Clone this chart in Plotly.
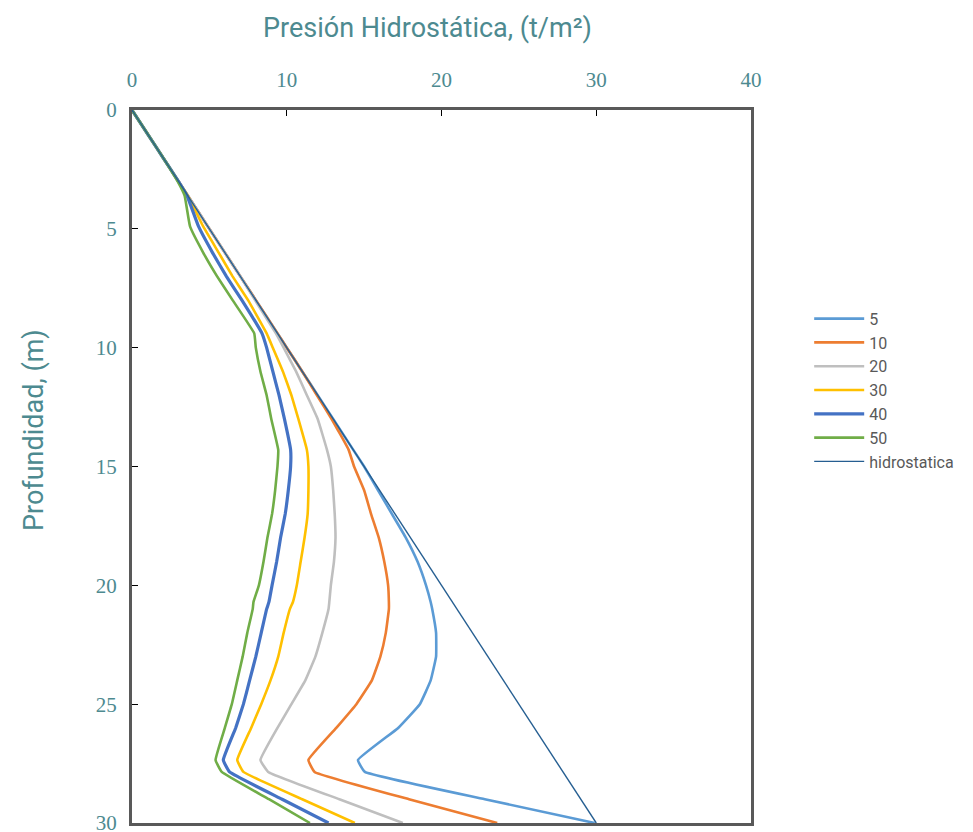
import plotly.graph_objects as go

# Depth (m) sample points shared by all series
depth = [0, 1, 2, 3, 3.6, 4.9, 6, 7, 8, 9.4, 10, 11, 12, 13, 14.3, 15, 16, 17, 18, 19,
         20, 20.7, 21, 22, 23, 24, 25, 26, 27.35, 27.85, 29, 30]

# Pressure (t/m2) for each series
p5 = [0, 1, 2, 3, 3.6, 4.9, 6, 7, 8, 9.4, 10, 11, 12, 13, 14.3, 15, 15.9, 16.8, 17.7, 18.45,
      19.0, 19.3, 19.4, 19.65, 19.65, 19.3, 18.6, 17.2, 14.6, 15.05, 22.8, 29.9]
p10 = [0, 1, 2, 3, 3.6, 4.9, 6, 7, 8, 9.4, 10, 11, 11.95, 12.9, 14.0, 14.35, 15.0, 15.45, 15.95, 16.3,
       16.55, 16.6, 16.6, 16.4, 16.05, 15.5, 14.5, 13.2, 11.4, 11.8, 17.9, 23.6]
p20 = [0, 1, 2, 3, 3.6, 4.9, 6, 7, 7.95, 9.3, 9.8, 10.6, 11.3, 12.0, 12.6, 12.85, 13.0, 13.1, 13.15, 13.05,
       12.85, 12.75, 12.7, 12.3, 11.85, 11.2, 10.3, 9.4, 8.3, 8.8, 13.4, 17.5]
p30 = [0, 1, 2, 3, 3.6, 4.6, 5.6, 6.5, 7.5, 8.7, 9.1, 9.75, 10.3, 10.75, 11.3, 11.4, 11.4, 11.35, 11.15, 10.9,
       10.65, 10.4, 10.2, 9.8, 9.45, 8.95, 8.35, 7.7, 6.8, 7.2, 11.0, 14.4]
p40 = [0, 1, 2, 3, 3.55, 4.3, 5.2, 6.1, 7.1, 8.4, 8.7, 9.1, 9.5, 9.85, 10.25, 10.25, 10.1, 9.9, 9.6, 9.35,
       9.05, 8.85, 8.7, 8.35, 8.0, 7.6, 7.2, 6.7, 5.9, 6.3, 9.7, 12.7]
p50 = [0, 1, 2, 2.95, 3.4, 3.75, 4.6, 5.5, 6.5, 7.9, 8.0, 8.3, 8.7, 9.0, 9.45, 9.4, 9.25, 9.05, 8.75, 8.5,
       8.2, 7.85, 7.8, 7.45, 7.15, 6.8, 6.45, 6.0, 5.4, 5.8, 8.85, 11.5]

hidro_depth = [0, 30]
hidro_p = [0, 30]

series_names = ["5", "10", "20", "30", "40", "50"]
series_vals = [p5, p10, p20, p30, p40, p50]
colors = ["#5B9BD5", "#ED7D31", "#BFBFBF", "#FFC000", "#4472C4", "#70AD47"]
widths = [2.6, 2.6, 2.6, 2.6, 3.2, 2.6]

x_ticks = [0, 10, 20, 30, 40]
y_ticks = [0, 5, 10, 15, 20, 25, 30]

teal = "#4D8A90"

fig = go.Figure()
for name, vals, c, w in zip(series_names, series_vals, colors, widths):
    fig.add_trace(go.Scatter(x=vals, y=depth, mode="lines", name=name,
                             line=dict(color=c, width=w, shape="spline", smoothing=0.3)))
fig.add_trace(go.Scatter(x=hidro_p, y=hidro_depth, mode="lines", name="hidrostatica",
                         line=dict(color="#255E91", width=1.4)))

fig.update_layout(
    width=973, height=832,
    margin=dict(l=132, r=222, t=110, b=9, autoexpand=False),
    paper_bgcolor="white", plot_bgcolor="white",
    showlegend=True,
    legend=dict(x=1.094, y=0.607, xanchor="left", yanchor="middle",
                font=dict(family="Roboto", size=16, color="#595959"),
                tracegroupgap=0, itemwidth=50, bgcolor="rgba(0,0,0,0)"),
    xaxis=dict(range=[0, 40], side="top", tickvals=x_ticks, ticktext=[str(v) for v in x_ticks],
               showgrid=False, zeroline=False, showline=True, mirror=True,
               linecolor="#595959", linewidth=3, ticks="inside", ticklen=6,
               tickcolor="#000000", tickwidth=1, ticklabelstandoff=12,
               ticklabeloverflow="allow", automargin=False,
               tickfont=dict(family="Liberation Serif", size=21, color=teal)),
    yaxis=dict(range=[30, 0], tickvals=y_ticks, ticktext=[str(v) for v in y_ticks],
               showgrid=False, zeroline=False, showline=True, mirror=True,
               linecolor="#595959", linewidth=3, ticks="inside", ticklen=6,
               tickcolor="#000000", tickwidth=1, ticklabelstandoff=8,
               ticklabeloverflow="allow", automargin=False,
               tickfont=dict(family="Liberation Serif", size=21, color=teal)),
    annotations=[
        dict(text="Presión Hidrostática, (t/m²)", xref="paper", yref="paper",
             x=(427 - 132) / 619, y=1 + (110 - 28) / 713, xanchor="center", yanchor="middle",
             showarrow=False, font=dict(family="Roboto", size=27, color=teal)),
        dict(text="Profundidad, (m)", xref="paper", yref="paper",
             x=(34 - 132) / 619, y=1 - (430 - 110) / 713, xanchor="center", yanchor="middle",
             textangle=-90, showarrow=False, font=dict(family="Roboto", size=27, color=teal)),
    ],
)

fig.write_html("out.html", config={"displayModeBar": False},
               post_script="document.body.style.margin='0';document.body.style.overflow='hidden';")
